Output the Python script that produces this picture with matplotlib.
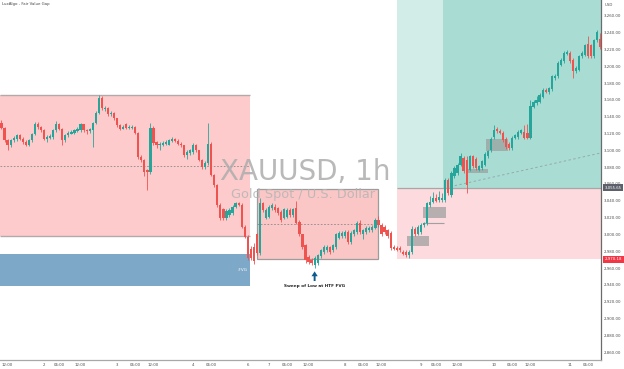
import numpy as np
import matplotlib.pyplot as plt
from matplotlib.patches import Rectangle
from matplotlib.transforms import blended_transform_factory

# ===============================
# XAUUSD 1h candles
# ===============================

opens = [3133, 3127, 3112, 3106, 3112, 3113, 3118, 3114, 3110, 3107,
         3112, 3120, 3132, 3128, 3124, 3114, 3115, 3116, 3124, 3131,
         3126, 3112, 3118, 3120, 3121, 3123, 3124, 3131, 3124, 3123,
         3124, 3133, 3145, 3162, 3149, 3151, 3143, 3145, 3138, 3130,
         3126, 3131, 3127, 3127, 3128, 3121, 3092, 3089, 3077, 3074,
         3127, 3110, 3106, 3107, 3108, 3107, 3111, 3114, 3111, 3108,
         3106, 3094, 3097, 3098, 3107, 3100, 3089, 3080, 3085, 3108,
         3071, 3059, 3035, 3030, 3020, 3023, 3025, 3033, 3037, 3035,
         3009, 2997, 2983, 2985, 3000, 2978, 3037, 3020, 3021, 3031,
         3033, 3031, 3027, 3020, 3021, 3029, 3023, 3031, 3015, 3000,
         2987, 2973, 2970, 2964, 2966, 2974, 2979, 2981, 2985, 2981,
         2985, 2996, 2998, 2998, 3003, 2991, 3000, 3003, 3014, 3001,
         3003, 3005, 3005, 3008, 3017, 3011, 3009, 3005, 3002, 2985,
         2984, 2984, 2979, 2979, 2975, 2979, 3007, 3001, 3003, 3011,
         3013, 3035, 3039, 3043, 3041, 3041, 3041, 3065, 3047, 3069,
         3073, 3083, 3091, 3089, 3077, 3093, 3090, 3077, 3079, 3083,
         3093, 3100, 3116, 3125, 3123, 3121, 3114, 3108, 3103, 3115,
         3116, 3121, 3122, 3121, 3115, 3152, 3156, 3158, 3164, 3172,
         3169, 3173, 3186, 3188, 3202, 3206, 3215, 3216, 3208, 3194,
         3196, 3212, 3214, 3227, 3225, 3212, 3231, 3232]

highs = [3136, 3128, 3113, 3114, 3117, 3120, 3119, 3116, 3112, 3113,
         3121, 3134, 3134, 3129, 3125, 3118, 3119, 3126, 3135, 3133,
         3127, 3120, 3123, 3124, 3126, 3128, 3133, 3132, 3126, 3127,
         3134, 3147, 3166, 3165, 3153, 3152, 3147, 3146, 3139, 3131,
         3130, 3133, 3130, 3130, 3129, 3122, 3094, 3090, 3078, 3133,
         3129, 3111, 3110, 3111, 3112, 3114, 3116, 3115, 3113, 3110,
         3107, 3100, 3102, 3109, 3108, 3101, 3090, 3087, 3133, 3110,
         3072, 3060, 3037, 3032, 3030, 3031, 3035, 3039, 3038, 3037,
         3011, 2999, 2986, 2990, 3002, 3043, 3039, 3031, 3035, 3037,
         3036, 3033, 3029, 3032, 3031, 3031, 3032, 3040, 3017, 3001,
         2989, 2975, 2972, 2974, 2977, 2983, 2987, 2987, 2986, 2989,
         3002, 3004, 3004, 3005, 3005, 3004, 3007, 3016, 3017, 3007,
         3010, 3010, 3011, 3019, 3022, 3013, 3011, 3007, 3004, 2987,
         2986, 2986, 2981, 2981, 2981, 3010, 3009, 3011, 3013, 3015,
         3039, 3046, 3050, 3048, 3052, 3049, 3067, 3067, 3075, 3081,
         3085, 3097, 3093, 3093, 3095, 3094, 3092, 3083, 3089, 3098,
         3101, 3116, 3130, 3128, 3126, 3123, 3116, 3110, 3117, 3120,
         3124, 3126, 3130, 3132, 3160, 3160, 3165, 3168, 3174, 3174,
         3176, 3190, 3191, 3206, 3210, 3218, 3219, 3218, 3210, 3200,
         3214, 3218, 3227, 3236, 3227, 3233, 3243, 3240]

lows = [3125, 3110, 3100, 3104, 3110, 3111, 3112, 3108, 3105, 3105,
        3110, 3118, 3126, 3122, 3112, 3110, 3113, 3114, 3122, 3124,
        3106, 3110, 3116, 3119, 3120, 3122, 3122, 3122, 3120, 3121,
        3104, 3131, 3143, 3148, 3147, 3141, 3141, 3136, 3128, 3124,
        3125, 3126, 3126, 3125, 3119, 3090, 3086, 3070, 3053, 3072,
        3107, 3103, 3100, 3105, 3106, 3106, 3110, 3110, 3107, 3104,
        3092, 3090, 3095, 3096, 3098, 3087, 3078, 3078, 3083, 3069,
        3056, 3033, 3017, 3017, 3017, 3021, 3023, 3031, 3034, 3008,
        2996, 2970, 2969, 2965, 2976, 2976, 3027, 3018, 3019, 3029,
        3027, 3023, 3015, 3018, 3019, 3021, 3021, 3012, 2998, 2983,
        2966, 2965, 2964, 2960, 2964, 2972, 2977, 2979, 2977, 2979,
        2983, 2994, 2996, 2996, 2989, 2989, 2998, 3001, 3001, 2995,
        3001, 3003, 3003, 3006, 3009, 2998, 3001, 2996, 2982, 2981,
        2980, 2979, 2975, 2973, 2972, 2977, 2998, 2999, 3001, 3009,
        3011, 3033, 3037, 3038, 3039, 3038, 3039, 3047, 3045, 3067,
        3071, 3081, 3073, 3049, 3075, 3079, 3077, 3075, 3077, 3081,
        3091, 3098, 3114, 3121, 3119, 3110, 3102, 3101, 3101, 3113,
        3114, 3119, 3113, 3113, 3113, 3150, 3154, 3156, 3162, 3168,
        3167, 3171, 3184, 3186, 3200, 3204, 3213, 3204, 3186, 3192,
        3194, 3210, 3212, 3210, 3210, 3210, 3229, 3221]

closes = [3127, 3112, 3106, 3112, 3115, 3118, 3114, 3110, 3107, 3112,
          3120, 3132, 3128, 3124, 3114, 3116, 3117, 3124, 3131, 3126,
          3112, 3118, 3121, 3122, 3124, 3126, 3131, 3124, 3123, 3125,
          3133, 3145, 3162, 3150, 3151, 3143, 3145, 3138, 3130, 3126,
          3128, 3127, 3128, 3128, 3121, 3092, 3089, 3074, 3074, 3127,
          3109, 3106, 3108, 3109, 3110, 3112, 3114, 3111, 3108, 3106,
          3094, 3098, 3100, 3107, 3100, 3089, 3080, 3085, 3108, 3071,
          3059, 3035, 3020, 3020, 3028, 3029, 3033, 3037, 3035, 3009,
          2997, 2972, 2972, 2968, 2978, 3037, 3029, 3029, 3033, 3035,
          3029, 3025, 3017, 3030, 3029, 3023, 3030, 3014, 3000, 2985,
          2970, 2967, 2966, 2972, 2975, 2981, 2985, 2985, 2979, 2987,
          3000, 3002, 3002, 3003, 2991, 3002, 3005, 3014, 3003, 3005,
          3008, 3008, 3009, 3017, 3011, 3000, 3003, 2998, 2984, 2983,
          2982, 2981, 2977, 2975, 2979, 3007, 3000, 3009, 3011, 3013,
          3037, 3039, 3043, 3040, 3045, 3043, 3065, 3049, 3073, 3079,
          3083, 3093, 3075, 3059, 3093, 3081, 3079, 3081, 3087, 3096,
          3099, 3114, 3124, 3123, 3121, 3112, 3104, 3103, 3115, 3118,
          3122, 3124, 3115, 3115, 3153, 3158, 3160, 3166, 3172, 3170,
          3174, 3188, 3188, 3204, 3208, 3216, 3217, 3206, 3194, 3198,
          3212, 3216, 3225, 3212, 3212, 3231, 3241, 3223]

# time axis labels (candle index -> label)
tick_pos = [2, 14, 19, 26, 38, 44, 50, 63, 69, 81, 88, 94, 101,
            113, 119, 125, 138, 143, 150, 162, 168, 174, 187, 193]
tick_labels = ["12:00", "2", "06:00", "12:00", "3", "06:00", "12:00",
               "4", "06:00", "6", "7", "06:00", "12:00", "8", "06:00",
               "12:00", "9", "06:00", "12:00", "10", "06:00", "12:00",
               "11", "06:00"]

# zones: (start idx, end idx, low, high)
htf_zone = (-0.5, 81.7, 2998, 3166)
bear_fvg = (-0.5, 81.7, 2939, 2977)
sweep_zone = (84.0, 123.9, 2970.5, 3054)
gray_fvgs = [(133.3, 140.7, 2986, 2998),
             (138.6, 146.1, 3019, 3033),
             (152.8, 160.1, 3072.8, 3077.6),
             (159.3, 166.5, 3099.7, 3113.6)]
fvg_line = (138.6, 145.5, 3013)

# long position tool
entry_price = 3055.65
stop_price = 2970.18
pos_start = 130.1
target_start = 145.2
trend_line = ([147.5, 197.2], [3056.7, 3097])

# ===============================
# Plot
# ===============================

UP = '#26a69a'
DOWN = '#ef5350'
GRID_TXT = '#4d4d4d'

fig = plt.figure(figsize=(6.24, 3.69), dpi=100)
ax = fig.add_axes([0, 9 / 369, 601 / 624, 360 / 369])
x_min, x_max = -0.49, 197.2
ax.set_xlim(x_min, x_max)
ax.set_ylim(2850.5, 3279)


def box(x0, x1, y0, y1, **kw):
    ax.add_patch(Rectangle((x0, y0), x1 - x0, y1 - y0, **kw))


# HTF zone + bearish FVG
box(htf_zone[0], htf_zone[1], htf_zone[2], htf_zone[3], fc='#fdcbcb', ec='none', zorder=1)
ax.hlines([htf_zone[2], htf_zone[3]], htf_zone[0], htf_zone[1], color='#b3a9a9', lw=1.0, zorder=1.2)
ax.hlines((htf_zone[2] + htf_zone[3]) / 2, htf_zone[0], htf_zone[1], color='#8a8a8a',
          lw=0.6, linestyles=(0, (2, 2)), zorder=1.2)
box(bear_fvg[0], bear_fvg[1], bear_fvg[2], bear_fvg[3], fc='#7ea8c8', ec='none', zorder=1)
ax.text(bear_fvg[1] - 0.8, (bear_fvg[2] + bear_fvg[3]) / 2, '-FVG', ha='right', va='center',
        fontsize=3, color='white', zorder=4)

# sweep zone
box(sweep_zone[0], sweep_zone[1], sweep_zone[2], sweep_zone[3], fc='#fbc6c6',
    ec='#9c9c9c', lw=0.9, zorder=1)
ax.hlines((sweep_zone[2] + sweep_zone[3]) / 2, sweep_zone[0], sweep_zone[1], color='#8a8a8a',
          lw=0.6, linestyles=(0, (2, 2)), zorder=1.2)

# long position tool
box(pos_start, x_max, stop_price, entry_price, fc='#fcdadd', ec='none', zorder=1)
box(pos_start, x_max, entry_price, 3279, fc='#d2ece7', ec='none', zorder=1)
box(target_start, x_max, entry_price, 3279, fc='#a9ddd4', ec='none', zorder=1.1)
ax.hlines(entry_price, pos_start, x_max, color='#a7a7a7', lw=0.9, zorder=1.2)
ax.plot(trend_line[0], trend_line[1], color='#96aaa6', lw=0.7, ls=(0, (2.5, 2.5)), zorder=1.3)

# gray FVG boxes
for g in gray_fvgs:
    box(g[0], g[1], g[2], g[3], fc='#9a9d9c', ec='none', alpha=0.7, zorder=2)
ax.hlines(fvg_line[2], fvg_line[0], fvg_line[1], color='#a0a0a0', lw=0.8, zorder=2)

# watermark
ax.text(100.0, 3074, 'XAUUSD, 1h', ha='center', va='center', fontsize=20,
        color='#adadad', alpha=0.85, zorder=1.5)
ax.text(99.2, 3048, 'Gold Spot / U.S. Dollar', ha='center', va='center', fontsize=9.3,
        color='#b5b5b5', alpha=0.85, zorder=1.5)

# candles
o = np.array(opens)
h = np.array(highs)
l = np.array(lows)
c = np.array(closes)
n = len(o)
xs = np.arange(n)
cols = np.where(c >= o, UP, DOWN)
ax.vlines(xs, l, h, colors=cols, lw=0.6, zorder=3)
body = np.where(np.abs(c - o) < 1.0, 1.0, c - o)
ax.bar(xs, body, bottom=o, width=0.72, color=cols, lw=0, zorder=3.1)

# sweep annotation
sweep_i = int(np.argmin(l))
ax.annotate('', xy=(sweep_i, 2956), xytext=(sweep_i, 2944.5),
            arrowprops=dict(width=1.4, headwidth=4.5, headlength=3.5, color='#0d5b8c', lw=0),
            zorder=4)
ax.text(sweep_i, 2941, 'Sweep of Low at HTF FVG', ha='center', va='top', fontsize=3.1,
        fontweight='bold', color='#222222', zorder=4)

# axes styling
ax.set_xticks(tick_pos)
ax.set_xticklabels(tick_labels)
ax.yaxis.tick_right()
ax.set_yticks(np.arange(2860, 3261, 20))
ax.set_yticklabels([f'{v:,.2f}' for v in np.arange(2860, 3261, 20)])
ax.tick_params(axis='x', length=0, pad=1.8, labelsize=2.8, labelcolor=GRID_TXT)
ax.tick_params(axis='y', length=0, pad=2.3, labelsize=2.8, labelcolor=GRID_TXT)
for s in ['top', 'left']:
    ax.spines[s].set_visible(False)
ax.spines['right'].set_color('#6b6b6b')
ax.spines['right'].set_linewidth(0.9)
ax.spines['bottom'].set_color('#a8a8a8')
ax.spines['bottom'].set_linewidth(0.9)

# price labels
trans = blended_transform_factory(ax.transAxes, ax.transData)
ax.text(1.006, entry_price, f'{entry_price:,.2f}', transform=trans, ha='left', va='center',
        fontsize=2.8, color='white', zorder=5, clip_on=False,
        bbox=dict(boxstyle='square,pad=0.45', fc='#5d606b', ec='none'))
ax.text(1.006, stop_price, f'{stop_price:,.2f}', transform=trans, ha='left', va='center',
        fontsize=2.8, color='white', zorder=5, clip_on=False,
        bbox=dict(boxstyle='square,pad=0.45', fc='#f23645', ec='none'))

fig.text(605 / 624, 1 - 5 / 369, 'USD', fontsize=2.8, color=GRID_TXT, va='center')
fig.text(2 / 624, 1 - 4 / 369, 'LuxAlgo - Fair Value Gap', fontsize=2.8, color='#444444',
         va='center')

fig.savefig('out.png', dpi=100)
